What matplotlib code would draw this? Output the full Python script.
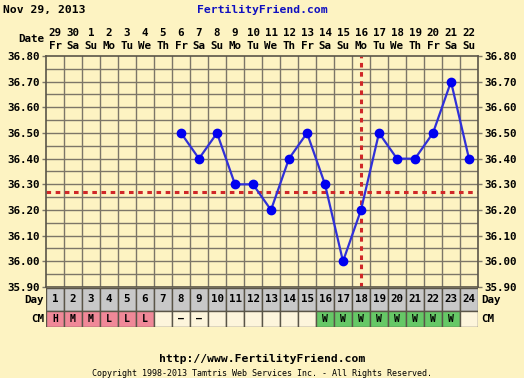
import matplotlib
matplotlib.use('Agg')
import matplotlib.pyplot as plt
from matplotlib.patches import Rectangle

# chart data
dates = ['29', '30', '1', '2', '3', '4', '5', '6', '7', '8', '9', '10',
         '11', '12', '13', '14', '15', '16', '17', '18', '19', '20', '21', '22']
weekdays = ['Fr', 'Sa', 'Su', 'Mo', 'Tu', 'We', 'Th', 'Fr', 'Sa', 'Su', 'Mo', 'Tu',
            'We', 'Th', 'Fr', 'Sa', 'Su', 'Mo', 'Tu', 'We', 'Th', 'Fr', 'Sa', 'Su']
temp_days = [8, 9, 10, 11, 12, 13, 14, 15, 16, 17, 18, 19, 20, 21, 22, 23, 24]
temps = [36.50, 36.40, 36.50, 36.30, 36.30, 36.20, 36.40, 36.50, 36.30,
         36.00, 36.20, 36.50, 36.40, 36.40, 36.50, 36.70, 36.40]
cm = ['H', 'M', 'M', 'L', 'L', 'L', '', '-', '-', '', '', '', '', '', '',
      'W', 'W', 'W', 'W', 'W', 'W', 'W', 'W', '']
cm_colors = {'H': '#F08898', 'M': '#F08898', 'L': '#F08898', 'W': '#66C866'}
coverline = 36.27
ovulation_day = 18
ytick_vals = [35.90, 36.00, 36.10, 36.20, 36.30, 36.40, 36.50, 36.60, 36.70, 36.80]

BG = '#FDF3C2'
GRID = '#7C7668'
FONT = 'DejaVu Sans Mono'
FS = 7.8
ndays = len(dates)

W, H = 524, 378
fig = plt.figure(figsize=(W / 100, H / 100), dpi=100, facecolor=BG)

def fx(px):
    return px / W

def fy(py):
    return 1 - py / H

left, right, top, bottom = 46, 478, 56, 287
ax = fig.add_axes([fx(left), fy(bottom), fx(right - left), fy(top) - fy(bottom)])
ax.set_facecolor(BG)
ax.set_xlim(0, ndays)
ax.set_ylim(35.90, 36.80)

# grid
for i in range(1, ndays):
    ax.axvline(i, color=GRID, lw=1, zorder=1)
for k in range(1, 18):
    ax.axhline(35.90 + k * 0.05, color=GRID, lw=1, zorder=1)

ax.set_xticks([])
ax.set_yticks(ytick_vals)
ax.tick_params(axis='y', which='both', left=True, right=True, labelleft=True,
               labelright=True, length=3, width=1, color=GRID, pad=1.5,
               labelsize=FS)
ax.set_yticklabels(['%.2f' % v for v in ytick_vals], fontfamily=FONT,
                   fontweight='bold')
for s in ax.spines.values():
    s.set_color('#5A5548')
    s.set_linewidth(1.2)

# coverline and ovulation line
ax.axhline(coverline, color='#D02828', lw=2.2, ls=(0, (1.5, 1.5)), zorder=2)
ax.axvline(ovulation_day - 0.5, color='#D02828', lw=2.2, ls=(0, (1.5, 1.5)), zorder=2)

xs = [d - 0.5 for d in temp_days]
ax.plot(xs, temps, color='#3030D8', lw=1.6, zorder=3)
ax.plot(xs, temps, 'o', color='#0000F0', ms=6, zorder=4)

# day / CM table
tb = fig.add_axes([fx(left), fy(327), fx(right - left), fy(288) - fy(327)])
tb.set_xlim(0, ndays)
tb.set_ylim(0, 39)
tb.axis('off')
for i in range(ndays):
    tb.add_patch(Rectangle((i, 16), 1, 23, facecolor='#C8C8C8', edgecolor='#5A5548', lw=1))
    tb.text(i + 0.5, 27.5, str(i + 1), ha='center', va='center', fontsize=FS,
            fontfamily=FONT, fontweight='bold')
    tb.add_patch(Rectangle((i, 0), 1, 16, facecolor=cm_colors.get(cm[i], '#FDF5DC'),
                           edgecolor='#5A5548', lw=1))
    if cm[i]:
        lab = '\u2014' if cm[i] == '-' else cm[i]
        tb.text(i + 0.5, 8, lab, ha='center', va='center', fontsize=7,
                fontfamily=FONT, fontweight='bold')

# row labels
for x, ha in [(44, 'right'), (481, 'left')]:
    fig.text(fx(x), fy(300), 'Day', ha=ha, va='center', fontsize=FS,
             fontfamily=FONT, fontweight='bold')
    fig.text(fx(x), fy(319), 'CM', ha=ha, va='center', fontsize=FS,
             fontfamily=FONT, fontweight='bold')

# date header
for i in range(ndays):
    cx = fx(left + 18 * i + 9)
    fig.text(cx, fy(33), dates[i], ha='center', va='center', fontsize=FS,
             fontfamily=FONT, fontweight='bold')
    fig.text(cx, fy(46), weekdays[i], ha='center', va='center', fontsize=FS,
             fontfamily=FONT, fontweight='bold')
fig.text(fx(44), fy(39), 'Date', ha='right', va='center', fontsize=FS,
         fontfamily=FONT, fontweight='bold')

# titles and footer
fig.text(fx(3), fy(10), 'Nov 29, 2013', ha='left', va='center', fontsize=8.2,
         fontfamily=FONT, fontweight='bold')
fig.text(fx(262), fy(10), 'FertilityFriend.com', ha='center', va='center',
         fontsize=8.2, fontfamily=FONT, fontweight='bold', color='#1010C0')
fig.text(fx(262), fy(359), 'http://www.FertilityFriend.com', ha='center',
         va='center', fontsize=8.2, fontfamily=FONT, fontweight='bold')
fig.text(fx(262), fy(373), 'Copyright 1998-2013 Tamtris Web Services Inc. - All Rights Reserved.',
         ha='center', va='center', fontsize=6, fontfamily=FONT)

fig.savefig('out.png', dpi=100, facecolor=BG)
